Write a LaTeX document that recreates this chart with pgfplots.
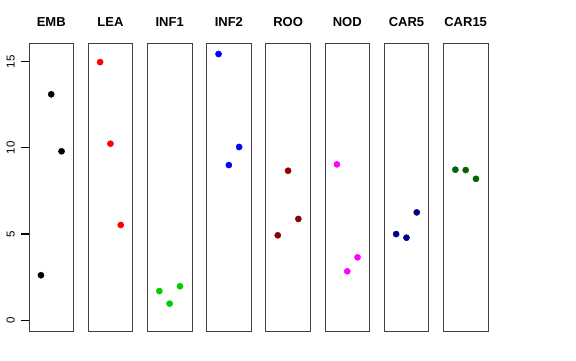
\documentclass[border=0pt]{standalone}
\usepackage{pgfplots}
\pgfplotsset{compat=1.18}
\usepackage{fontspec}
\setmainfont{Liberation Sans}
\definecolor{rgreen}{RGB}{0,205,0}
\definecolor{rdarkred}{RGB}{139,0,0}
\definecolor{rdarkblue}{RGB}{0,0,139}
\definecolor{rdarkgreen}{RGB}{0,100,0}
\definecolor{rmagenta}{RGB}{255,0,255}
\definecolor{rblue}{RGB}{0,0,255}
\definecolor{rred}{RGB}{255,0,0}
\pgfplotsset{
  panel/.style={
    scale only axis, width=44.5bp, height=288bp,
    anchor=south west,
    xmin=-0.16, xmax=4.16, ymin=-0.64, ymax=16.09,
    xtick=\empty, ytick=\empty,
    axis line style={black!75, line width=0.8bp},
    title style={at={(0.5,1)}, anchor=base, yshift=11bp, font=\fontsize{13bp}{15bp}\selectfont\bfseries, inner sep=0pt},
    clip=false,
  },
  pts/.style={only marks, mark=*, mark size=3.1bp, mark options={draw=#1, fill=#1}},
}
\begin{document}
\begin{tikzpicture}[x=1bp,y=1bp]
\fill[white] (0,0) rectangle (576,360);
\begin{axis}[panel, at={(29bp,29bp)}, title={EMB},
  ytick={0,5,10,15}, ytick pos=left, tick align=outside, major tick length=8bp,
  ytick style={draw=black, line width=0.8bp},
  yticklabel style={rotate=90, anchor=south, inner sep=0pt, yshift=6bp, font=\fontsize{11.5bp}{13bp}\selectfont},
  /pgf/number format/assume math mode=true]
\addplot[pts=black] coordinates {(1,2.60) (2,13.11) (3,9.80)};
\end{axis}
\begin{axis}[panel, at={(88.2bp,29bp)}, title={LEA}]
\addplot[pts=rred] coordinates {(1,14.98) (2,10.24) (3,5.52)};
\end{axis}
\begin{axis}[panel, at={(147.4bp,29bp)}, title={INF1}]
\addplot[pts=rgreen] coordinates {(1,1.68) (2,0.95) (3,1.96)};
\end{axis}
\begin{axis}[panel, at={(206.6bp,29bp)}, title={INF2}]
\addplot[pts=rblue] coordinates {(1,15.45) (2,9.00) (3,10.05)};
\end{axis}
\begin{axis}[panel, at={(265.8bp,29bp)}, title={ROO}]
\addplot[pts=rdarkred] coordinates {(1,4.92) (2,8.67) (3,5.87)};
\end{axis}
\begin{axis}[panel, at={(325bp,29bp)}, title={NOD}]
\addplot[pts=rmagenta] coordinates {(1,9.04) (2,2.83) (3,3.64)};
\end{axis}
\begin{axis}[panel, at={(384.2bp,29bp)}, title={CAR5}]
\addplot[pts=rdarkblue] coordinates {(1,4.99) (2,4.78) (3,6.25)};
\end{axis}
\begin{axis}[panel, at={(443.4bp,29bp)}, title={CAR15}]
\addplot[pts=rdarkgreen] coordinates {(1,8.73) (2,8.71) (3,8.20)};
\end{axis}
\foreach \t in {0,5,10,15}{
  \draw[black, line width=0.9bp] (21bp,{29+(\t+0.64)/16.73*288}) -- (29bp,{29+(\t+0.64)/16.73*288});
}
\end{tikzpicture}
\end{document}
